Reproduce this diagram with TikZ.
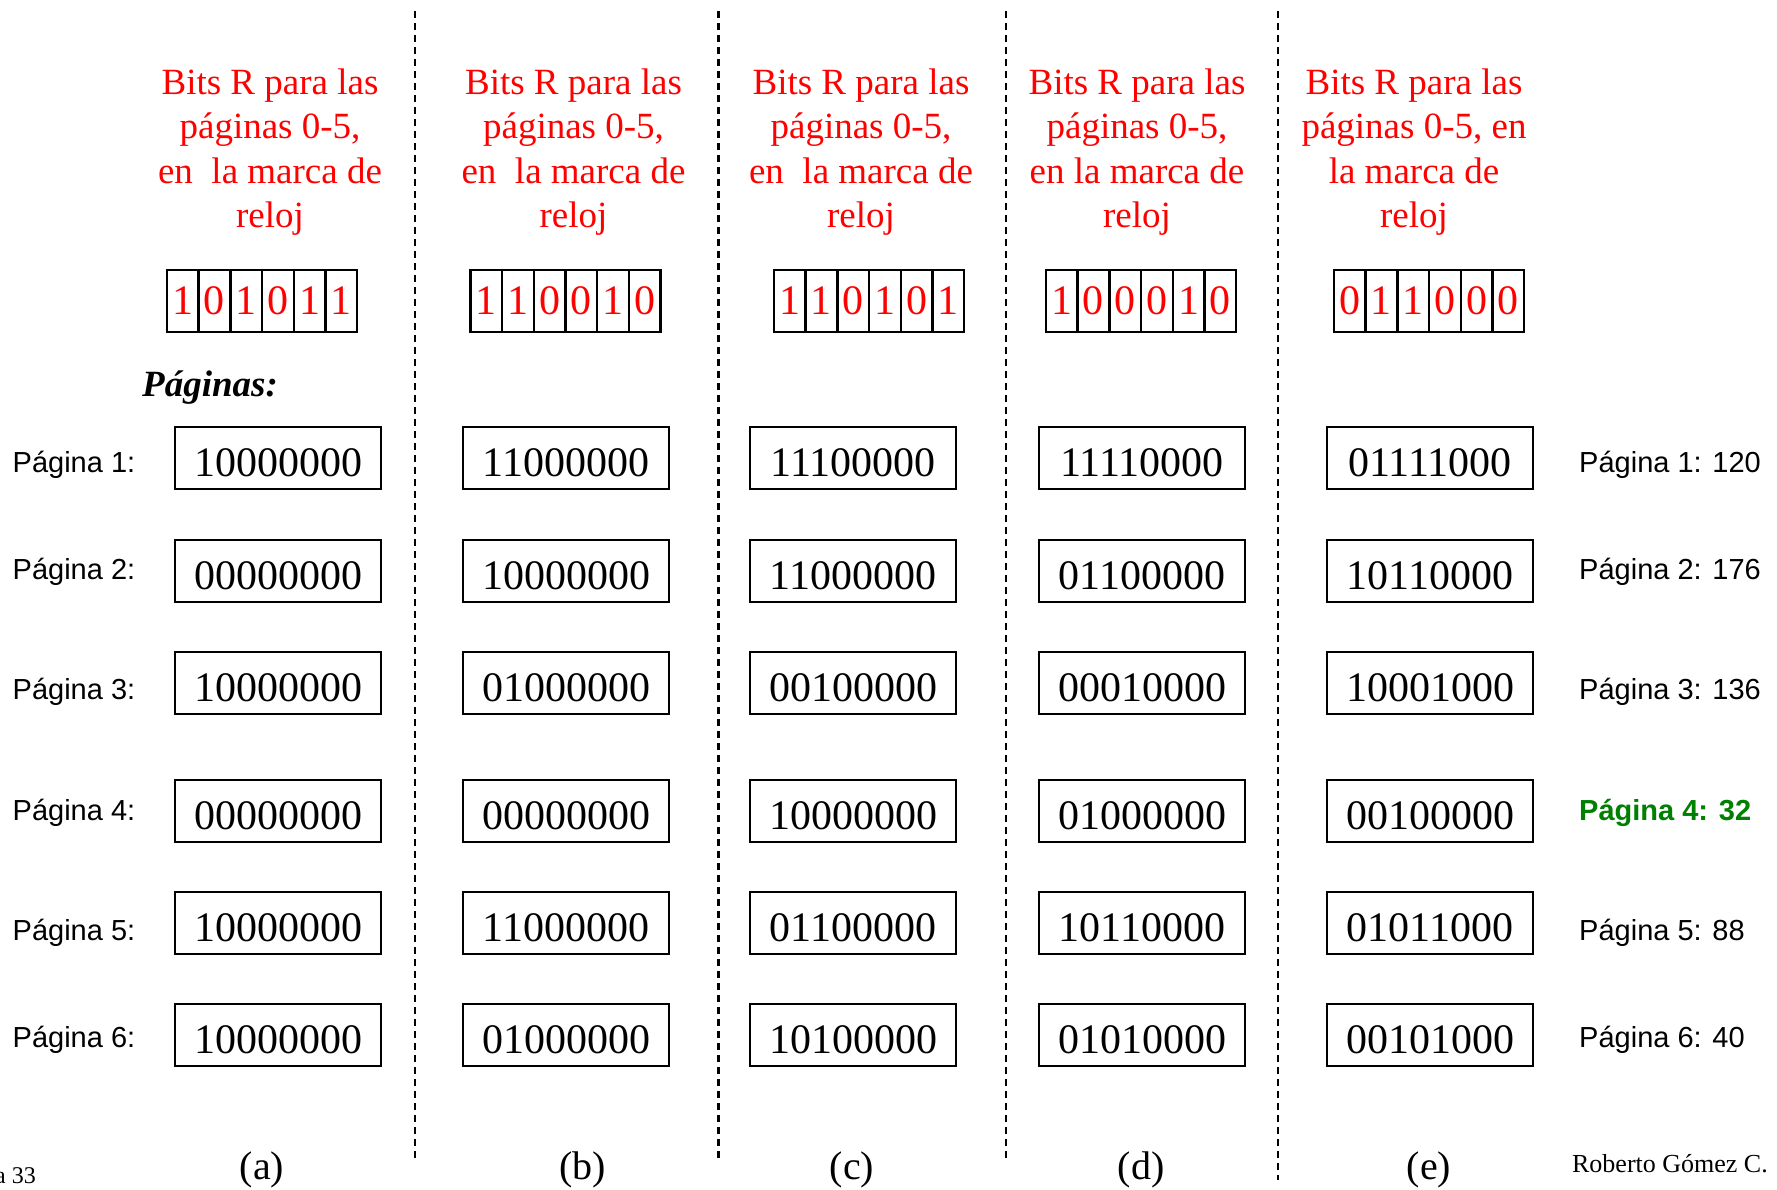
\documentclass[tikz,border=0pt]{standalone}
\usepackage{fontspec}
\setmainfont{Liberation Serif}
\newfontfamily\arialf{Liberation Sans}
\definecolor{hdrred}{RGB}{255,0,0}
\definecolor{pggreen}{RGB}{0,128,0}
\begin{document}
\begin{tikzpicture}[x=1pt,y=-1pt,
  sep/.style={line width=2.2pt, dash pattern=on 7pt off 5pt},
  hdr/.style={text=hdrred, align=center, font=\fontsize{37}{44.5}\selectfont, inner sep=0pt},
  bitcell/.style={draw, line width=2.4pt, minimum width=31.7pt, minimum height=62pt, inner sep=0pt, text=hdrred, font=\fontsize{42}{42}\selectfont},
  valbox/.style={draw, line width=2.4pt, minimum width=206pt, minimum height=62pt, inner sep=0pt, text height=36pt, text depth=0pt, font=\fontsize{42}{42}\selectfont},
  rowlbl/.style={anchor=west, inner sep=0pt, font=\arialf\fontsize{29}{29}\selectfont},
  sublbl/.style={inner sep=0pt, font=\fontsize{40}{40}\selectfont}]
\useasboundingbox (0,0) rectangle (1777,1189);
\fill[white] (0,0) rectangle (1777,1189);
% separators
\coordinate (s1t) at (415,11); \coordinate (s1b) at (415,1160);
\coordinate (s2t) at (718.5,11); \coordinate (s2b) at (718.5,1160);
\coordinate (s3t) at (1006,11); \coordinate (s3b) at (1006,1160);
\coordinate (s4t) at (1278,11); \coordinate (s4b) at (1278,1180);
\draw[sep] (s1t) -- (s1b);
\draw[sep] (s2t) -- (s2b);
\draw[sep] (s3t) -- (s3b);
\draw[sep] (s4t) -- (s4b);
% headers
\node[hdr] (hA) at (270,152) {Bits R para las\\páginas 0-5,\\en\ \ la marca de\\reloj};
\node[hdr] (hB) at (573.5,152) {Bits R para las\\páginas 0-5,\\en\ \ la marca de\\reloj};
\node[hdr] (hC) at (861,152) {Bits R para las\\páginas 0-5,\\en\ \ la marca de\\reloj};
\node[hdr] (hD) at (1137,152) {Bits R para las\\páginas 0-5,\\en la marca de\\reloj};
\node[hdr] (hE) at (1414,152) {Bits R para las\\páginas 0-5, en\\la marca de\\reloj};
% bit registers
\foreach \col/\cx/\bits in {a/262/{1,0,1,0,1,1}, b/565.5/{1,1,0,0,1,0}, c/869/{1,1,0,1,0,1}, d/1141/{1,0,0,0,1,0}, e/1429/{0,1,1,0,0,0}}{
  \foreach \b [count=\i] in \bits {
    \node[bitcell] (bit\col\i) at ({\cx+(\i-3.5)*31.7},301) {\b};
  }
}
\node[inner sep=0pt, font=\bfseries\itshape\fontsize{37}{37}\selectfont] (pg) at (210,388) {Páginas:};
% rows
\foreach \r/\ly/\by/\va/\vb/\vc/\vd/\ve/\num in {
  1/465/458/10000000/11000000/11100000/11110000/01111000/120,
  2/572/571/00000000/10000000/11000000/01100000/10110000/176,
  3/692/683/10000000/01000000/00100000/00010000/10001000/136,
  4/813/811/00000000/00000000/10000000/01000000/00100000/32,
  5/933/923/10000000/11000000/01100000/10110000/01011000/88,
  6/1040/1035/10000000/01000000/10100000/01010000/00101000/40}{
  \node[rowlbl] (l\r) at (12.5,\ly) {Página \r:};
  \node[valbox] (va\r) at (278,\by) {\va};
  \node[valbox] (vb\r) at (566,\by) {\vb};
  \node[valbox] (vc\r) at (853,\by) {\vc};
  \node[valbox] (vd\r) at (1142,\by) {\vd};
  \node[valbox] (ve\r) at (1430,\by) {\ve};
  \ifnum\r=4
    \node[rowlbl, text=pggreen, font=\arialf\bfseries\fontsize{29}{29}\selectfont] (res\r) at (1579,\ly) {Página \r: \num};
  \else
    \node[rowlbl] (res\r) at (1579,\ly) {Página \r: \num};
  \fi
}
% bottom labels
\node[sublbl] (la) at (262,1170) {(a)};
\node[sublbl] (lb) at (582.5,1170) {(b)};
\node[sublbl] (lc) at (852,1170) {(c)};
\node[sublbl] (ld) at (1141,1170) {(d)};
\node[sublbl] (le) at (1429,1170) {(e)};
\node[anchor=east, inner sep=0pt, font=\fontsize{26}{26}\selectfont] (auth) at (1768,1164) {Roberto Gómez C.};
\node[anchor=east, inner sep=0pt, font=\fontsize{24}{24}\selectfont] (slide) at (36,1176) {a 33};
\end{tikzpicture}
\end{document}
